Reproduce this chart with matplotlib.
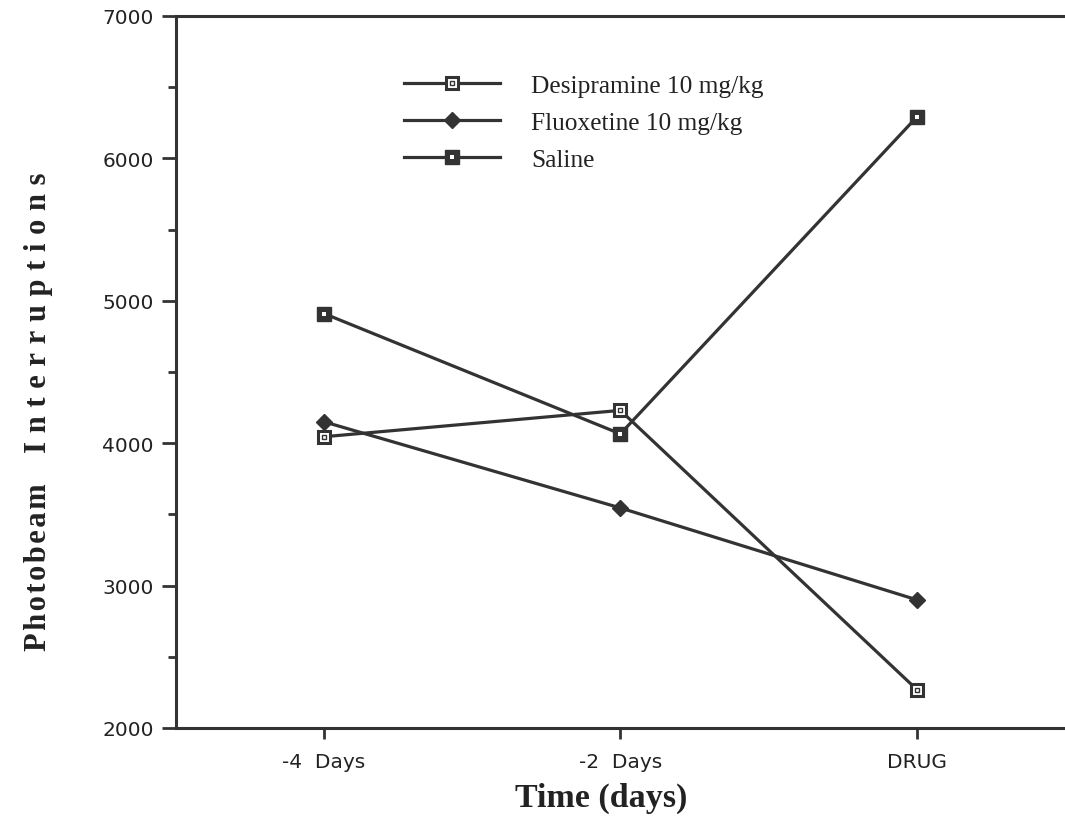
import matplotlib.pyplot as plt
from matplotlib.ticker import MultipleLocator

# photobeam counts per session
sessions = ['-4  Days', '-2  Days', 'DRUG']
desipramine = [4045, 4230, 2270]
fluoxetine = [4150, 3545, 2900]
saline = [4910, 4065, 6290]

ink = '#333333'
x = list(range(len(sessions)))

fig = plt.figure(figsize=(10.65, 8.28), dpi=100)
ax = fig.add_axes([0.165, 0.1196, 0.835, 0.86])

# desipramine: open square with a small hollow centre
d_outer, = ax.plot(x, desipramine, color=ink, lw=2.3, marker='s', ms=9,
                   mfc='white', mec=ink, mew=2.2)
d_inner, = ax.plot(x, desipramine, ls='none', marker='s', ms=3.5,
                   mfc='white', mec=ink, mew=1.0)

# fluoxetine: filled diamond
f_line, = ax.plot(x, fluoxetine, color=ink, lw=2.3, marker='D', ms=8,
                  mfc=ink, mec=ink)

# saline: filled square with a white dot
s_outer, = ax.plot(x, saline, color=ink, lw=2.3, marker='s', ms=10,
                   mfc=ink, mec=ink)
s_inner, = ax.plot(x, saline, ls='none', marker='s', ms=2.5,
                   mfc='white', mec='white', mew=0)

ax.set_xlim(-0.5, 2.5)
ax.set_ylim(2000, 7000)
ax.set_xticks(x)
ax.set_xticklabels(sessions)
ax.yaxis.set_major_locator(MultipleLocator(1000))
ax.yaxis.set_minor_locator(MultipleLocator(500))

ax.spines['right'].set_visible(False)
for side in ['left', 'top', 'bottom']:
    ax.spines[side].set_linewidth(2.2)
    ax.spines[side].set_color(ink)

ax.tick_params(axis='y', which='major', length=10, width=2, color=ink,
               labelsize=14.5, labelcolor='#222222', pad=6)
ax.tick_params(axis='y', which='minor', length=6, width=2, color=ink)
ax.tick_params(axis='x', length=8, width=2, color=ink, labelsize=14.5,
               labelcolor='#222222', pad=9)
ax.tick_params(top=False, right=False)
for lab in ax.get_xticklabels() + ax.get_yticklabels():
    lab.set_family('DejaVu Sans')

ax.set_xlabel('Time (days)', family='Liberation Serif', fontweight='bold',
              fontsize=24.5, color='#222222')
ax.xaxis.set_label_coords(0.478, -0.075)

sp = '\u2009\u200a'
ax.set_ylabel('\u200a'.join('Photobeam') + '    ' + sp.join('Interruptions'),
              family=['Liberation Serif', 'DejaVu Serif'], fontweight='bold',
              fontsize=22, color='#222222')
ax.yaxis.set_label_coords(-0.138, 0.445)

leg = ax.legend([(d_outer, d_inner), f_line, (s_outer, s_inner)],
                ['Desipramine 10 mg/kg', 'Fluoxetine 10 mg/kg', 'Saline'],
                loc='upper left', bbox_to_anchor=(0.257, 0.918),
                frameon=False, borderpad=0, borderaxespad=0,
                handlelength=3.75, handletextpad=1.25, labelspacing=0.56,
                prop={'family': 'Liberation Serif', 'size': 18.3})
for t in leg.get_texts():
    t.set_color('#222222')

fig.savefig('out.png', dpi=100)
